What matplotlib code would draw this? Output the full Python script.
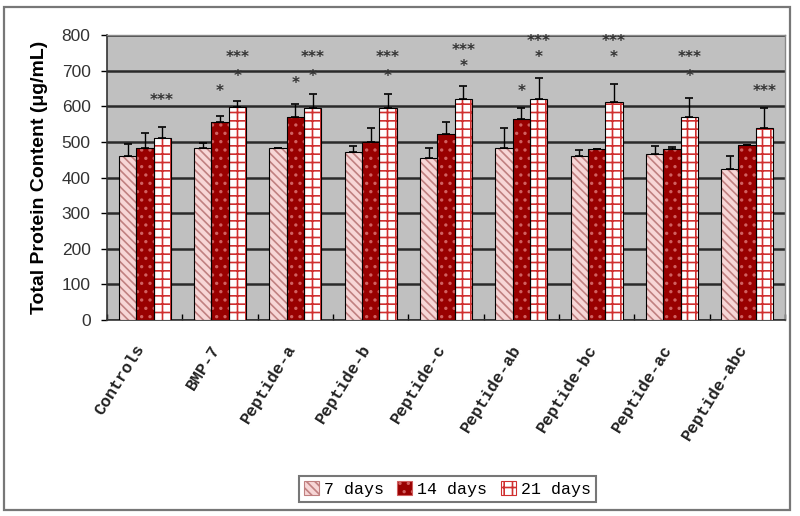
import matplotlib
matplotlib.use("Agg")
import matplotlib.pyplot as plt
import numpy as np
from matplotlib.patches import Rectangle

categories = ["Controls", "BMP-7", "Peptide-a", "Peptide-b", "Peptide-c",
              "Peptide-ab", "Peptide-bc", "Peptide-ac", "Peptide-abc"]
series_names = ["7 days", "14 days", "21 days"]
d7 = [459, 484, 484, 471, 454, 484, 461, 465, 424]
d14 = [484, 556, 569, 499, 522, 565, 481, 479, 492]
d21 = [511, 598, 596, 596, 620, 620, 612, 571, 540]
e7 = [36, 14, 0, 18, 30, 56, 17, 24, 37]
e14 = [42, 18, 37, 40, 35, 31, 0, 8, 0]
e21 = [31, 18, 38, 39, 37, 59, 51, 52, 56]
y_ticks = [0, 100, 200, 300, 400, 500, 600, 700, 800]

# significance marks: (group index, series index, text, y value)
sig_marks = [
    (0, 2, "***", 615),
    (1, 1, "*", 641), (1, 2, "*", 685), (1, 2, "***", 737),
    (2, 1, "*", 663), (2, 2, "*", 685), (2, 2, "***", 737),
    (3, 2, "*", 685), (3, 2, "***", 737),
    (4, 2, "*", 711), (4, 2, "***", 758),
    (5, 1, "*", 641), (5, 2, "*", 737), (5, 2, "***", 781),
    (6, 2, "*", 737), (6, 2, "***", 781),
    (7, 2, "*", 685), (7, 2, "***", 737),
    (8, 2, "***", 641),
]

plt.rcParams['hatch.linewidth'] = 1.2
fig = plt.figure(figsize=(8, 5.16), dpi=100)
fig.patches.append(Rectangle((0.005, 0.012), 0.982, 0.975, transform=fig.transFigure,
                             fill=False, edgecolor="#777777", linewidth=1.6))
ax = fig.add_axes([0.134, 0.380, 0.847, 0.552])
ax.set_facecolor("#c0c0c0")

x = np.arange(len(categories))
w = 0.23
offsets = [-w, 0, w]
styles = [
    dict(face="#f7d6d6", hatch="\\\\\\\\", hcol="#c08080"),
    dict(face="#990000", hatch="..", hcol="#d06060"),
    dict(face="white", hatch="++", hcol="#d03030"),
]
vals = [d7, d14, d21]
errs = [e7, e14, e21]

for i in range(3):
    st = styles[i]
    ax.bar(x + offsets[i], vals[i], w, color=st["face"], hatch=st["hatch"],
           edgecolor=st["hcol"], linewidth=0, zorder=3)
    ax.bar(x + offsets[i], vals[i], w, fill=False, edgecolor="black",
           linewidth=0.8, zorder=4)
    ax.errorbar(x + offsets[i], vals[i],
                yerr=[np.zeros(len(x)), errs[i]], fmt="none", ecolor="black",
                elinewidth=1.0, capsize=3, capthick=1.2, zorder=5)

legend_handles = []
for i in range(3):
    st = styles[i]
    legend_handles.append(Rectangle((0, 0), 1, 1, facecolor=st["face"], hatch=st["hatch"],
                                    edgecolor=st["hcol"], linewidth=0.8))

for gi, si, txt, yv in sig_marks:
    ax.text(x[gi] + offsets[si], yv, txt, ha="center", va="center",
            fontsize=11, fontweight="bold", color="#333333", zorder=6)

ax.set_ylim(0, 800)
ax.set_xlim(-0.5, len(categories) - 0.5)
ax.set_yticks(y_ticks)
ax.set_yticklabels([str(v) for v in y_ticks], fontsize=12.5, family="Liberation Sans",
                   color="#333333")
ax.yaxis.grid(True, color="#2a2a2a", linewidth=1.8, zorder=0)
ax.set_axisbelow(True)
ax.tick_params(axis="y", length=4, width=1, direction="out", pad=8)
ax.set_xticks(np.arange(len(categories) + 1) - 0.5, minor=False)
ax.set_xticklabels([""] * (len(categories) + 1))
ax.tick_params(axis="x", length=4, direction="in", width=1)
for i, c in enumerate(categories):
    ax.text(x[i] - 0.13, -62, c, rotation=58, ha="right", va="top",
            rotation_mode="anchor", fontsize=12, family="Liberation Mono",
            fontweight="bold", color="#222222", transform=ax.transData)

for s in ["left", "bottom"]:
    ax.spines[s].set_color("#333333")
    ax.spines[s].set_linewidth(1.2)
for s in ["top", "right"]:
    ax.spines[s].set_color("#888888")
    ax.spines[s].set_linewidth(1.0)

ax.set_ylabel("Total Protein Content (μg/mL)", fontsize=14, fontweight="bold",
              family="Liberation Sans", labelpad=10)

leg = fig.legend(legend_handles, series_names, loc="center",
                 bbox_to_anchor=(0.559, 0.052), ncol=3, frameon=True, fancybox=False,
                 edgecolor="#555555", handlelength=0.9, handleheight=0.9,
                 handletextpad=0.3, columnspacing=0.8, borderpad=0.3,
                 prop=dict(family="Liberation Mono", size=12))
leg.get_frame().set_linewidth(1.5)

fig.savefig("out.png", dpi=100)
